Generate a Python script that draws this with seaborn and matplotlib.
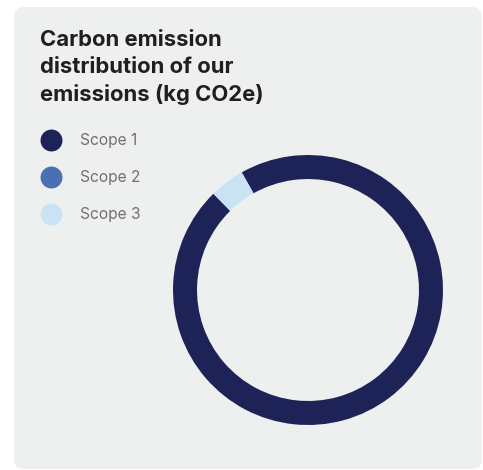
import matplotlib
matplotlib.use("Agg")
import matplotlib.pyplot as plt
from matplotlib.lines import Line2D
from matplotlib.patches import FancyBboxPatch
import seaborn as sns

# data
scopes = ["Scope 1", "Scope 2", "Scope 3"]
emissions = [95.8, 0.0, 4.2]
scope_colors = ["#1e2357", "#4a6fb5", "#c9e3f5"]
title = "Carbon emission\ndistribution of our\nemissions (kg CO2e)"

sns.set_theme(style="white")
plt.rcParams["font.family"] = ["Inter", "DejaVu Sans"]

W, H = 483, 470
fig = plt.figure(figsize=(W / 100, H / 100), dpi=100)
fig.patch.set_facecolor("white")

# card background
card = FancyBboxPatch((0.14, 0.01), 4.68, 4.62,
                      boxstyle="round,pad=0,rounding_size=0.1",
                      transform=fig.dpi_scale_trans,
                      facecolor="#eef0f0", edgecolor="none", zorder=-5)
fig.patches.append(card)

fig.text(40 / W, 1 - 30 / H, title, ha="left", va="top",
         fontsize=15.9, fontweight="bold", color="#1f1f1f", linespacing=1.42)

# donut
cx, cy, r = 308, 290, 135
ax = fig.add_axes([(cx - r) / W, (H - cy - r) / H, 2 * r / W, 2 * r / H])
ax.set_zorder(2)
ax.pie(emissions, colors=scope_colors, startangle=119.4, counterclock=False,
       radius=1.0, wedgeprops=dict(width=0.178, edgecolor="none"))
ax.set_xlim(-1, 1)
ax.set_ylim(-1, 1)
ax.set_aspect("equal")
ax.axis("off")

handles = [Line2D([], [], marker="o", linestyle="none", markersize=15.8,
                  markerfacecolor=c, markeredgecolor="none") for c in scope_colors]
fig.legend(handles, scopes, loc="upper left",
           bbox_to_anchor=(43 / W, 1 - 133 / H), frameon=False,
           fontsize=11.2, labelcolor="#707070", labelspacing=1.42,
           handlelength=1.0, handletextpad=1.4, borderpad=0, borderaxespad=0)

fig.savefig("out.png", dpi=100)
